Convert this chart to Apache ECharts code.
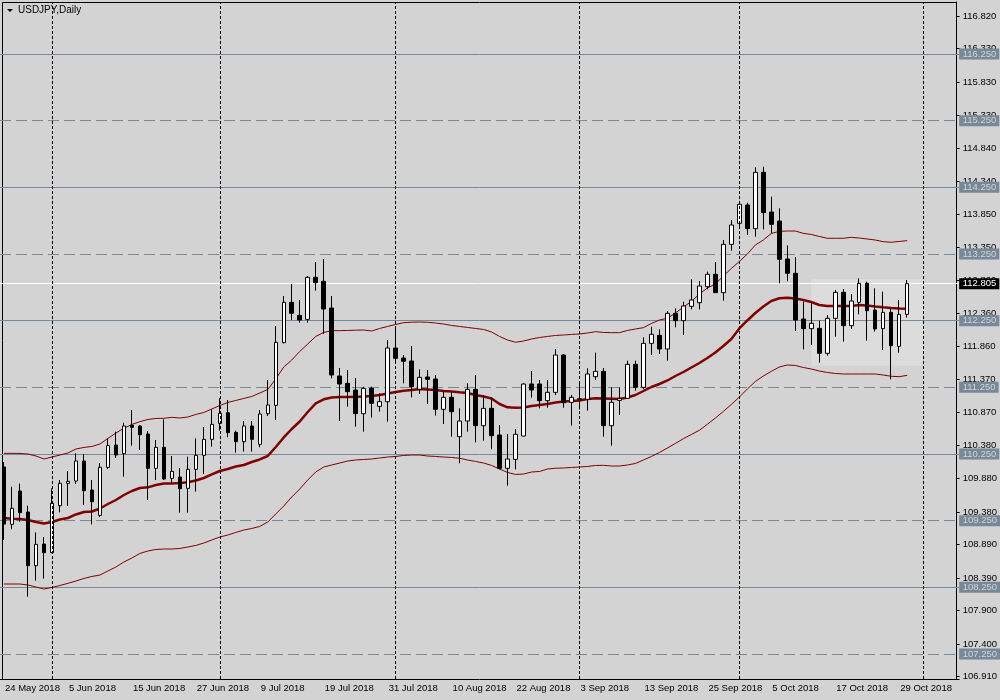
<!DOCTYPE html>
<html><head><meta charset="utf-8">
<script src="https://cdn.jsdelivr.net/npm/echarts@6/dist/echarts.min.js"></script>
<style>html,body{margin:0;padding:0;background:#d3d3d3}#c{width:1000px;height:700px}</style>
</head><body><div id="c"></div><script>
const categories = ['24 May 2018','25 May 2018','28 May 2018','29 May 2018','30 May 2018','31 May 2018',
'1 Jun 2018','4 Jun 2018','5 Jun 2018','6 Jun 2018','7 Jun 2018','8 Jun 2018','11 Jun 2018','12 Jun 2018','13 Jun 2018','14 Jun 2018','15 Jun 2018','18 Jun 2018','19 Jun 2018','20 Jun 2018','21 Jun 2018','22 Jun 2018','25 Jun 2018','26 Jun 2018','27 Jun 2018','28 Jun 2018','29 Jun 2018',
'2 Jul 2018','3 Jul 2018','4 Jul 2018','5 Jul 2018','6 Jul 2018','9 Jul 2018','10 Jul 2018','11 Jul 2018','12 Jul 2018','13 Jul 2018','16 Jul 2018','17 Jul 2018','18 Jul 2018','19 Jul 2018','20 Jul 2018','23 Jul 2018','24 Jul 2018','25 Jul 2018','26 Jul 2018','27 Jul 2018','30 Jul 2018','31 Jul 2018',
'1 Aug 2018','2 Aug 2018','3 Aug 2018','6 Aug 2018','7 Aug 2018','8 Aug 2018','9 Aug 2018','10 Aug 2018','13 Aug 2018','14 Aug 2018','15 Aug 2018','16 Aug 2018','17 Aug 2018','20 Aug 2018','21 Aug 2018','22 Aug 2018','23 Aug 2018','24 Aug 2018','27 Aug 2018','28 Aug 2018','29 Aug 2018','30 Aug 2018','31 Aug 2018',
'3 Sep 2018','4 Sep 2018','5 Sep 2018','6 Sep 2018','7 Sep 2018','10 Sep 2018','11 Sep 2018','12 Sep 2018','13 Sep 2018','14 Sep 2018','17 Sep 2018','18 Sep 2018','19 Sep 2018','20 Sep 2018','21 Sep 2018','24 Sep 2018','25 Sep 2018','26 Sep 2018','27 Sep 2018','28 Sep 2018',
'1 Oct 2018','2 Oct 2018','3 Oct 2018','4 Oct 2018','5 Oct 2018','8 Oct 2018','9 Oct 2018','10 Oct 2018','11 Oct 2018','12 Oct 2018','15 Oct 2018','16 Oct 2018','17 Oct 2018','18 Oct 2018','19 Oct 2018','22 Oct 2018','23 Oct 2018','24 Oct 2018','25 Oct 2018','26 Oct 2018','29 Oct 2018','30 Oct 2018','31 Oct 2018',
'1 Nov 2018','2 Nov 2018','5 Nov 2018','6 Nov 2018','7 Nov 2018'];

const openP = [110.055,109.195,109.695,109.38,108.575,108.9,108.77,109.475,109.81,109.845,
110.145,109.71,109.33,110.05,110.385,110.255,110.68,110.67,110.55,110.035,
110.35,109.885,109.905,109.735,110.02,110.23,110.47,110.71,110.87,110.575,
110.435,110.67,110.395,110.855,110.98,111.92,112.525,112.33,112.27,112.9,
112.84,112.44,111.42,111.31,111.21,110.855,111.235,110.965,111.035,111.84,
111.69,111.645,111.22,111.405,111.375,110.92,111.1,110.51,110.745,111.22,
110.675,110.935,110.535,110.035,110.17,110.52,111.3,111.3,111.05,111.175,
111.735,111.025,111.065,111.07,111.41,111.49,110.675,111.055,111.085,111.595,
111.25,111.91,112.03,111.825,112.36,112.25,112.465,112.52,112.76,112.945,
112.67,113.395,113.71,113.985,113.63,114.475,113.88,113.745,113.175,112.96,
112.275,112.13,112.135,111.76,112.285,112.675,112.175,112.525,112.81,112.41,
112.13,112.375,111.865,112.345];
const closeP = [109.2,109.435,109.37,108.575,108.895,108.77,109.51,109.81,109.84,110.145,
109.7,109.535,110.05,110.375,110.235,110.67,110.65,110.54,110.035,110.35,
109.875,109.99,109.73,110.02,110.23,110.47,110.695,110.86,110.57,110.435,
110.67,110.47,110.85,110.985,111.925,112.525,112.36,112.26,112.9,112.82,
112.425,111.435,111.3,111.185,110.855,111.235,111.01,111.035,111.84,111.685,
111.64,111.26,111.4,111.37,110.92,111.1,110.885,110.745,111.22,110.675,
110.935,110.525,110.035,110.175,110.545,111.3,111.21,111.05,111.175,111.735,
111.02,111.1,111.08,111.45,111.49,110.675,111.025,111.085,111.595,111.25,
111.91,112.045,111.825,112.36,112.25,112.47,112.56,112.77,112.945,112.67,
113.395,113.685,113.995,113.63,114.475,113.87,113.695,113.17,112.96,112.26,
112.13,112.21,111.76,112.285,112.675,112.175,112.545,112.81,112.4,112.125,
112.375,111.875,112.345,112.805];
const lowP = [108.96,109.12,109.235,108.11,108.35,108.38,108.76,109.375,109.47,109.8,
109.485,109.195,109.305,110.025,110.19,109.91,110.375,110.31,109.56,109.86,
109.86,109.8,109.37,109.37,109.685,109.95,110.36,110.6,110.5,110.27,
110.285,110.285,110.35,110.82,110.76,111.91,112.26,112.22,112.22,112.7,
112.05,111.385,110.745,110.96,110.66,110.585,110.795,110.885,110.735,111.63,
111.31,111.1,111.15,111.0,110.825,110.7,110.51,110.11,110.585,110.425,
110.45,110.32,110.02,109.775,110.02,110.515,111.095,110.935,110.945,111.135,
110.945,110.675,110.92,110.9,111.36,110.51,110.375,110.835,111.08,111.2,
111.22,111.735,111.75,111.65,112.15,112.035,112.42,112.42,112.72,112.665,
112.55,113.3,113.67,113.535,113.51,113.62,113.56,112.81,112.84,112.095,
111.82,111.885,111.62,111.725,112.01,111.935,112.125,112.345,111.95,112.085,
111.81,111.37,111.77,112.295];
const highP = [110.13,109.76,109.805,109.475,109.075,109.005,109.735,109.86,109.995,110.26,
110.25,109.86,110.115,110.485,110.585,110.72,110.91,110.68,110.595,110.46,
110.77,110.22,110.04,110.21,110.485,110.655,110.92,111.085,111.06,110.6,
110.745,110.745,110.91,111.36,112.17,112.62,112.8,112.56,112.92,113.13,
113.175,112.62,111.54,111.51,111.39,111.26,111.26,111.16,111.96,112.17,
111.735,111.87,111.52,111.51,111.435,111.185,111.185,110.935,111.31,111.435,
111.135,111.095,110.685,110.55,110.625,111.31,111.495,111.36,111.36,111.825,
111.75,111.135,111.33,111.535,111.77,111.54,111.25,111.25,111.65,111.65,
112.0,112.16,112.12,112.395,112.435,112.535,112.87,112.845,112.985,113.13,
113.46,113.76,114.045,114.02,114.55,114.56,114.11,113.935,113.38,113.205,
112.535,112.51,112.25,112.335,112.71,112.725,112.65,112.885,112.835,112.735,
112.685,112.435,112.56,112.86];

const ma20 = [109.29,109.28,109.275,109.26,109.23,109.207,109.23,109.268,109.29,109.343,
109.38,109.388,109.433,109.50,109.56,109.635,109.695,109.74,109.75,109.785,
109.808,109.808,109.815,109.826,109.853,109.89,109.943,109.995,110.025,110.063,
110.085,110.13,110.168,110.22,110.355,110.498,110.625,110.738,110.88,111.008,
111.07,111.098,111.105,111.105,111.11,111.113,111.12,111.135,111.158,111.18,
111.20,111.21,111.225,111.218,111.21,111.195,111.188,111.176,111.165,111.135,
111.113,111.083,111.00,110.95,110.945,110.948,110.97,110.985,111.00,111.023,
111.038,111.045,111.053,111.075,111.086,111.083,111.08,111.075,111.098,111.135,
111.195,111.255,111.30,111.353,111.42,111.48,111.548,111.615,111.69,111.773,
111.87,111.975,112.133,112.253,112.365,112.463,112.545,112.586,112.595,112.583,
112.56,112.53,112.485,112.47,112.47,112.47,112.47,112.485,112.478,112.463,
112.45,112.44,112.433,112.43];
const upperBand = [110.26,110.26,110.258,110.25,110.22,110.175,110.205,110.235,110.265,110.325,
110.348,110.363,110.40,110.483,110.565,110.636,110.693,110.735,110.768,110.783,
110.786,110.80,110.79,110.805,110.843,110.873,110.925,110.978,111.023,111.053,
111.083,111.113,111.165,111.218,111.375,111.555,111.66,111.788,111.90,112.013,
112.073,112.10,112.10,112.103,112.107,112.11,112.095,112.133,112.163,112.193,
112.22,112.227,112.23,112.226,112.215,112.20,112.178,112.163,112.148,112.133,
112.118,112.08,112.013,111.96,111.926,111.945,111.975,111.998,112.013,112.028,
112.035,112.043,112.05,112.065,112.085,112.073,112.07,112.07,112.103,112.125,
112.145,112.208,112.26,112.286,112.365,112.455,112.538,112.65,112.74,112.80,
112.92,113.033,113.138,113.25,113.385,113.46,113.558,113.59,113.595,113.595,
113.56,113.543,113.513,113.486,113.486,113.486,113.50,113.49,113.475,113.46,
113.435,113.426,113.438,113.45];
const lowerBand = [108.30,108.30,108.30,108.285,108.255,108.225,108.248,108.278,108.31,108.345,
108.383,108.413,108.435,108.495,108.555,108.63,108.69,108.758,108.795,108.818,
108.825,108.825,108.833,108.855,108.878,108.915,108.96,109.005,109.035,109.073,
109.11,109.133,109.163,109.23,109.35,109.47,109.605,109.725,109.86,109.98,
110.055,110.085,110.115,110.145,110.16,110.168,110.175,110.19,110.205,110.213,
110.228,110.235,110.235,110.22,110.213,110.205,110.198,110.186,110.16,110.138,
110.115,110.078,110.025,109.973,109.943,109.95,109.98,109.988,110.025,110.036,
110.04,110.048,110.055,110.063,110.078,110.08,110.07,110.07,110.085,110.108,
110.16,110.213,110.273,110.34,110.409,110.48,110.543,110.606,110.696,110.79,
110.888,110.994,111.105,111.225,111.338,111.42,111.49,111.555,111.585,111.578,
111.548,111.525,111.495,111.473,111.458,111.45,111.45,111.45,111.45,111.45,
111.435,111.416,111.41,111.43];

const yTicks = [116.82,116.33,115.83,115.33,114.84,114.34,113.85,113.35,112.86,112.36,111.86,111.37,110.87,110.38,109.88,109.38,108.89,108.39,107.90,107.40,106.91];
const solidLevels = [116.25,114.25,112.25,110.25,108.25];
const dashedLevels = [115.25,113.25,111.25,109.25,107.25];
const currentPrice = 112.805;
const separators = ['1 Jun 2018','2 Jul 2018','1 Aug 2018','3 Sep 2018','1 Oct 2018','1 Nov 2018'];
const zoneStart = '12 Oct 2018', zoneEnd = '1 Nov 2018', zoneTop = 112.87, zoneBottom = 111.575;
const title = 'USDJPY,Daily';

const FONT = 'Liberation Sans';
const SLATE = '#778899';
const candles = openP.map((o, i) => [o, closeP[i], lowP[i], highP[i]]);
const levelLabel = {show: true, position: 'end', distance: 0, formatter: p => Number(p.value).toFixed(3),
  backgroundColor: SLATE, color: '#d3d3d3', fontSize: 9.5, fontFamily: FONT, padding: [1, 3, 0, 3.5], lineHeight: 10};
const levelData = []
  .concat(solidLevels.map(v => ({yAxis: v, lineStyle: {type: 'solid', color: SLATE}})))
  .concat(dashedLevels.map(v => ({yAxis: v, lineStyle: {type: [11, 5], color: SLATE}})))
  .concat([{yAxis: currentPrice, lineStyle: {type: 'solid', color: '#ffffff'},
    label: Object.assign({}, levelLabel, {backgroundColor: '#000000', color: '#ffffff'})}]);

const chart = echarts.init(document.getElementById('c'), null, {renderer: 'canvas'});
chart.setOption({
  animation: false,
  backgroundColor: '#d3d3d3',
  title: {text: title, left: 18, top: 5, padding: 0,
    textStyle: {fontSize: 10, fontWeight: 'normal', color: '#000', fontFamily: FONT}},
  graphic: [
    {type: 'polygon', shape: {points: [[7, 9], [13, 9], [10, 12]]}, style: {fill: '#000'}},
    {type: 'polyline', shape: {points: [[2.5, 679], [2.5, 2.5], [957, 2.5]]}, style: {stroke: '#000', lineWidth: 1, fill: null}}
  ],
  grid: {left: -0.5, right: 40.5, top: 2, bottom: 21, containLabel: false},
  xAxis: {
    type: 'category', data: categories, boundaryGap: true,
    axisLine: {lineStyle: {color: '#000', width: 1}},
    axisTick: {alignWithLabel: true, interval: i => i % 8 === 0, length: 4, lineStyle: {color: '#000'}},
    axisLabel: {interval: i => i % 8 === 0, align: 'left', margin: 4, color: '#000', fontSize: 9.5, fontFamily: FONT, padding: [0, 0, 0, 1]},
    splitLine: {show: false}
  },
  yAxis: {
    type: 'value', position: 'right', offset: -2.5, min: 106.875, max: 117.03,
    splitLine: {show: false},
    axisLine: {show: true, lineStyle: {color: '#000'}},
    axisTick: {show: true, customValues: yTicks, length: 3, lineStyle: {color: '#000'}},
    axisLabel: {customValues: yTicks, formatter: v => v.toFixed(3), color: '#000', fontSize: 9.5, fontFamily: FONT, margin: 6}
  },
  series: [
    {type: 'line', name: 'MA20', data: ma20, symbol: 'none', z: 2,
      lineStyle: {color: '#800000', width: 2.5},
      markArea: {silent: true, z: 1, itemStyle: {color: '#dcdcdc'},
        data: [[{xAxis: zoneStart, yAxis: zoneTop}, {xAxis: zoneEnd, yAxis: zoneBottom}]]}},
    {type: 'line', name: 'Upper', data: upperBand, symbol: 'none', z: 2,
      lineStyle: {color: '#800000', width: 1},
      markLine: {silent: true, z: 1, precision: 3, symbol: ['none', 'none'], lineStyle: {width: 1}, label: levelLabel, data: levelData}},
    {type: 'line', name: 'Lower', data: lowerBand, symbol: 'none', z: 2,
      lineStyle: {color: '#800000', width: 1},
      markLine: {silent: true, z: 10, symbol: ['none', 'none'], label: {show: false},
        lineStyle: {color: '#000', type: [3, 2], width: 1},
        data: separators.map(d => ({xAxis: d}))}},
    {type: 'candlestick', name: 'USDJPY', data: candles, z: 3, barWidth: 4,
      itemStyle: {color: '#ffffff', color0: '#000000', borderColor: '#000000', borderColor0: '#000000', borderWidth: 1}}
  ]
});
</script></body></html>
